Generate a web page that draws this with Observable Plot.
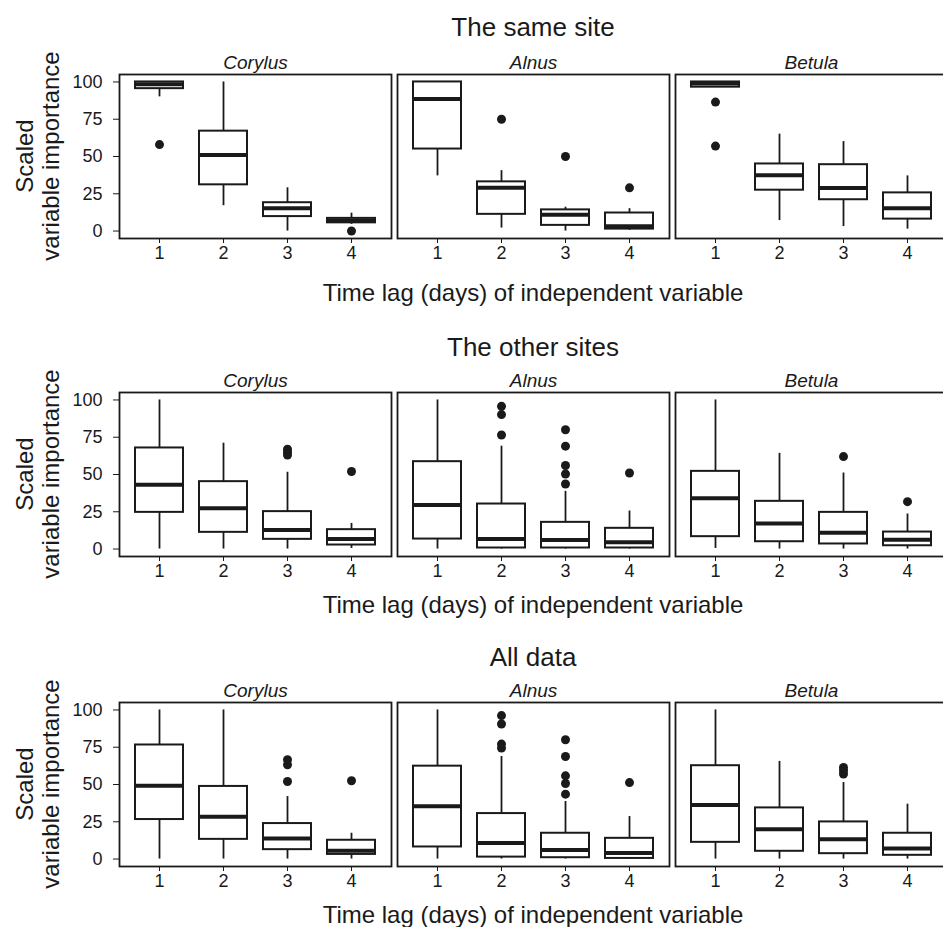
<!DOCTYPE html>
<html>
<head>
<meta charset="utf-8">
<script src="https://cdn.jsdelivr.net/npm/d3@7"></script>
<script src="https://cdn.jsdelivr.net/npm/@observablehq/plot@0.6"></script>
<style>
  html, body { margin: 0; padding: 0; background: white; overflow: hidden; }
  #page { position: relative; width: 943px; height: 927px; overflow: hidden; background: white;
          font-family: "Liberation Sans", Arial, Helvetica, sans-serif; color: #1a1a1a; }
  .lbl { position: absolute; white-space: nowrap; line-height: 1; transform: translate(-50%, -50%); }
  .ylab { position: absolute; white-space: nowrap; line-height: 26px; text-align: center;
          transform: translate(-50%, -50%) rotate(-90deg); font-size: 24px; }
  .row { position: absolute; left: 0; top: 0; width: 943px; overflow: hidden; }
</style>
</head>
<body>
<div id="page"></div>
<script>
const species = ["Corylus", "Alnus", "Betula"];
const lags = [1, 2, 3, 4];
const panelTitles = ["The same site", "The other sites", "All data"];
const xTitle = "Time lag (days) of independent variable";
const yTitle = ["Scaled", "variable importance"];
const yTicks = [0, 25, 50, 75, 100];

// Order of values: Corylus lags 1-4, Alnus lags 1-4, Betula lags 1-4
// Row 1: the same site
const sameLo  = [90, 17, 0, 4.5,      37, 2, 0, 0.5,        96.5, 7, 3, 1.3];
const sameQ1  = [95.5, 31, 9.7, 5.5,  55, 11.2, 3.8, 1.3,   96.5, 27.4, 21, 8];
const sameMed = [98.5, 51, 15.3, 7,   88.5, 29, 11, 3.2,    99, 37.5, 28.8, 15.3];
const sameQ3  = [100, 67, 19, 8.5,    100, 33, 14.2, 12.1,  100, 45, 44.5, 25.6];
const sameHi  = [100, 100, 29, 12,    100, 40.5, 16, 15,    100, 65, 60, 37];
const sameOut = [["Corylus", 1, 58], ["Corylus", 4, 0], ["Alnus", 2, 75], ["Alnus", 3, 50],
                 ["Alnus", 4, 29], ["Betula", 1, 86.5], ["Betula", 1, 57]];

// Row 2: the other sites
const otherLo  = [0, 0, 0, 0.4,        0, 0, 0, 0,          0.4, 0, 0, 0];
const otherQ1  = [24.6, 11.2, 6.5, 2.7, 6.7, 0.7, 0.7, 0.7,   8.3, 4.9, 3.4, 2.2];
const otherMed = [43.2, 27.3, 12.8, 6.7, 29.5, 6.7, 6, 4.5,  34, 17.2, 11, 6.3];
const otherQ3  = [67.8, 45.2, 25.1, 13, 58.6, 30.2, 17.9, 13.9, 52.1, 32, 24.6, 11.4];
const otherHi  = [100, 71, 51.5, 17.2,  100, 69, 38.7, 25.5,  100, 64.2, 51, 23.5];
const otherOut = [["Corylus", 3, 67], ["Corylus", 3, 65], ["Corylus", 3, 63], ["Corylus", 4, 52],
                  ["Alnus", 2, 95.7], ["Alnus", 2, 90.2], ["Alnus", 2, 76.5],
                  ["Alnus", 3, 80], ["Alnus", 3, 69], ["Alnus", 3, 56], ["Alnus", 3, 50.3], ["Alnus", 3, 43.6],
                  ["Alnus", 4, 51], ["Betula", 3, 62], ["Betula", 4, 31.8]];

// Row 3: all data
const allLo  = [0, 0, 0, 0,            0, 0, 0, 0,            0, 0, 0, 0];
const allQ1  = [26.5, 13.2, 6.3, 3.1,  8.1, 1.3, 0.9, 0.4,    11.2, 5.2, 3.6, 2.5];
const allMed = [49.1, 28.3, 13.7, 5.5, 35.4, 10.8, 6.1, 4,    36.3, 20, 13.2, 7];
const allQ3  = [76.5, 48.7, 23.8, 12.6, 62.3, 30.5, 17.3, 13.9, 62.6, 34.3, 24.9, 17.3];
const allHi  = [100, 100, 41.9, 17.3,  100, 68.8, 38.6, 28.5, 100, 65.5, 51.3, 36.8];
const allOut = [["Corylus", 3, 66.6], ["Corylus", 3, 63.2], ["Corylus", 3, 52], ["Corylus", 4, 52.5],
                ["Alnus", 2, 96.2], ["Alnus", 2, 90.6], ["Alnus", 2, 77.1], ["Alnus", 2, 74.4],
                ["Alnus", 3, 80], ["Alnus", 3, 68.8], ["Alnus", 3, 55.8], ["Alnus", 3, 50.7], ["Alnus", 3, 43.5],
                ["Alnus", 4, 51.3], ["Betula", 3, 61.4], ["Betula", 3, 59.2], ["Betula", 3, 57]];

const rowsData = [
  [sameLo, sameQ1, sameMed, sameQ3, sameHi, sameOut],
  [otherLo, otherQ1, otherMed, otherQ3, otherHi, otherOut],
  [allLo, allQ1, allMed, allQ3, allHi, allOut]
];

// layout (page pixels)
const panelTops = [74, 392, 702];
const panelH = 164;
const mTop = 34, mBottom = 40;
const titleY = [27, 347, 657];
const xTitleY = [293, 605, 915];
const centerX = 533;
const ink = "#1a1a1a";

const page = document.getElementById("page");

function makeRow(lo, q1, med, q3, hi, out) {
  const boxes = species.flatMap((s, i) => lags.map((l, j) => ({
    species: s, lag: l, lo: lo[i * 4 + j], q1: q1[i * 4 + j], med: med[i * 4 + j],
    q3: q3[i * 4 + j], hi: hi[i * 4 + j]
  })));
  const outliers = out.map(([s, l, v]) => ({species: s, lag: l, value: v}));
  return Plot.plot({
    width: 949,
    height: mTop + panelH + mBottom,
    marginTop: mTop,
    marginBottom: mBottom,
    marginLeft: 118,
    marginRight: 0,
    style: {fontFamily: '"Liberation Sans", Arial, Helvetica, sans-serif', fontSize: "18px",
            color: ink, background: "white", maxWidth: "none", overflow: "visible"},
    fx: {domain: species, paddingInner: 0.0215, paddingOuter: 0, axis: null, label: null},
    x: {type: "band", domain: lags, paddingInner: 0.25, paddingOuter: 0.225,
        label: null, tickSize: 5, tickPadding: 3},
    y: {domain: [-5, 105], ticks: yTicks, label: null, tickSize: 6, tickPadding: 11},
    marks: [
      Plot.ruleX(boxes, {fx: "species", x: "lag", y1: "lo", y2: "q1", stroke: ink, strokeWidth: 1.8}),
      Plot.ruleX(boxes, {fx: "species", x: "lag", y1: "q3", y2: "hi", stroke: ink, strokeWidth: 1.8}),
      Plot.barY(boxes, {fx: "species", x: "lag", y1: "q1", y2: "q3", fill: "white", stroke: ink, strokeWidth: 2}),
      Plot.tickY(boxes, {fx: "species", x: "lag", y: "med", stroke: ink, strokeWidth: 4}),
      Plot.dot(outliers, {fx: "species", x: "lag", y: "value", r: 4.5, fill: ink, stroke: "none"}),
      Plot.frame({stroke: ink, strokeWidth: 1.8}),
      Plot.text(species, {fx: d => d, text: d => d, frameAnchor: "top", lineAnchor: "bottom", dy: -6,
                          fontStyle: "italic", fontSize: 19, fill: ink})
    ]
  });
}

function addLabel(text, x, y, size, extraClass) {
  const d = document.createElement("div");
  d.className = extraClass || "lbl";
  d.style.left = x + "px";
  d.style.top = y + "px";
  d.style.fontSize = size + "px";
  d.textContent = text;
  page.appendChild(d);
  return d;
}

rowsData.forEach((rd, r) => {
  const holder = document.createElement("div");
  holder.className = "row";
  holder.style.top = (panelTops[r] - mTop) + "px";
  holder.style.height = (mTop + panelH + mBottom) + "px";
  holder.appendChild(makeRow(...rd));
  page.appendChild(holder);

  addLabel(panelTitles[r], centerX, titleY[r], 26);
  addLabel(xTitle, centerX, xTitleY[r], 24);

  const yl = document.createElement("div");
  yl.className = "ylab";
  yl.style.left = "38px";
  yl.style.top = (panelTops[r] + panelH / 2) + "px";
  yTitle.forEach((t) => {
    const line = document.createElement("div");
    line.textContent = t;
    yl.appendChild(line);
  });
  page.appendChild(yl);
});
</script>
</body>
</html>
